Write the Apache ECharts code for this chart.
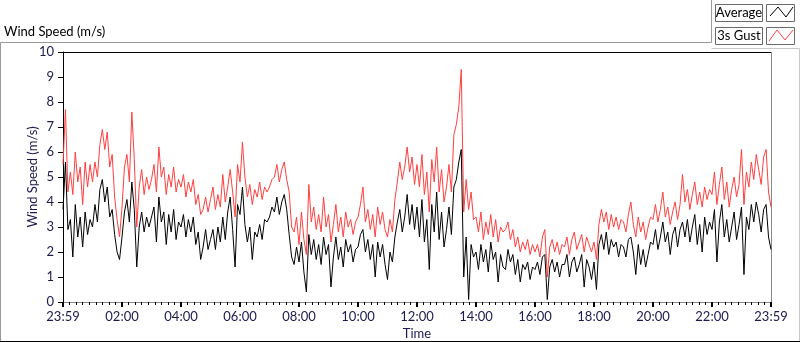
<!DOCTYPE html>
<html>
<head>
<meta charset="utf-8">
<script src="https://cdn.jsdelivr.net/npm/echarts@6/dist/echarts.min.js"></script>
<style>
  html, body { margin: 0; padding: 0; background: #fff; }
  #chart { width: 800px; height: 342px; }
</style>
</head>
<body>
<div id="chart"></div>
<script>
// one sample every 5 minutes, 00:00 .. 24:00
const stepMin = 5

const gust = [
  5.5, 7.7, 4.4, 5.2, 4.3, 6.0, 4.8, 5.4, 3.9, 5.6, 4.6, 5.5, // 00h
  4.8, 5.6, 5.0, 6.3, 6.9, 6.1, 6.8, 5.4, 5.9, 4.2, 3.3, 2.6, // 01h
  3.8, 5.4, 5.9, 4.8, 7.6, 5.7, 3.0, 4.6, 5.3, 4.3, 5.0, 4.5, // 02h
  4.9, 5.5, 4.4, 6.2, 5.0, 5.4, 4.3, 5.1, 4.6, 5.4, 4.4, 4.9, // 03h
  4.6, 5.1, 4.2, 4.8, 4.4, 4.9, 3.9, 4.3, 3.5, 3.7, 4.2, 3.6, // 04h
  4.1, 4.6, 3.7, 4.3, 3.8, 5.1, 4.0, 4.6, 5.3, 4.4, 3.4, 5.5, // 05h
  4.8, 6.4, 5.0, 4.2, 4.7, 3.9, 4.5, 4.2, 4.8, 4.1, 4.6, 4.4, // 06h
  4.6, 4.9, 5.0, 5.5, 4.8, 5.3, 5.6, 4.9, 4.4, 3.0, 2.8, 3.4, // 07h
  2.3, 3.6, 2.5, 1.9, 4.7, 3.2, 3.8, 2.9, 3.5, 2.8, 4.2, 3.0, // 08h
  3.5, 2.4, 3.1, 3.9, 2.8, 3.4, 2.6, 3.6, 3.0, 3.3, 2.7, 3.2, // 09h
  3.4, 3.9, 4.6, 3.2, 3.7, 2.9, 3.5, 2.6, 3.8, 3.1, 3.6, 2.9, // 10h
  2.6, 3.3, 2.8, 4.1, 4.8, 5.6, 4.9, 5.4, 6.2, 5.2, 5.8, 4.7, // 11h
  5.5, 4.6, 5.9, 4.3, 5.2, 3.6, 5.7, 4.8, 6.2, 4.4, 5.3, 4.0, // 12h
  4.6, 5.5, 4.4, 6.7, 7.1, 7.8, 9.3, 3.6, 4.9, 3.7, 4.4, 3.3, // 13h
  3.4, 2.8, 3.6, 2.5, 3.2, 2.7, 3.5, 2.6, 3.3, 2.4, 3.0, 2.8, // 14h
  2.9, 3.2, 2.5, 2.9, 2.2, 2.6, 2.0, 2.4, 2.1, 2.5, 1.9, 2.3, // 15h
  2.0, 2.3, 1.8, 2.6, 2.9, 1.0, 2.2, 2.5, 2.0, 2.4, 1.9, 2.3, // 16h
  2.2, 2.6, 1.9, 2.5, 2.8, 2.1, 2.4, 2.7, 2.0, 2.6, 2.3, 2.0, // 17h
  2.4, 1.7, 3.1, 3.7, 3.2, 3.6, 2.9, 3.5, 3.0, 3.4, 2.9, 3.3, // 18h
  3.2, 2.8, 3.5, 4.0, 3.1, 2.6, 3.4, 2.8, 3.2, 2.5, 3.0, 3.4, // 19h
  3.3, 3.9, 3.2, 3.7, 4.4, 3.4, 3.8, 3.1, 3.6, 4.0, 3.3, 3.9, // 20h
  5.1, 4.0, 4.5, 3.7, 4.3, 4.8, 3.9, 4.4, 3.8, 4.6, 4.1, 4.5, // 21h
  4.3, 5.2, 3.9, 4.7, 5.4, 4.1, 4.8, 3.8, 4.5, 5.0, 4.2, 4.7, // 22h
  6.1, 3.9, 5.2, 4.6, 5.6, 4.9, 5.9, 5.3, 4.7, 5.8, 6.1, 4.4, // 23h
  3.8
]

const average = [
  3.7, 5.6, 2.9, 3.3, 1.8, 3.9, 2.6, 3.4, 2.2, 3.6, 2.7, 3.3, // 00h
  3.0, 3.9, 3.2, 4.5, 4.9, 4.0, 4.6, 3.4, 3.7, 2.7, 2.0, 1.7, // 01h
  2.6, 3.6, 4.1, 3.2, 4.8, 3.7, 1.4, 3.0, 3.6, 2.8, 3.4, 3.0, // 02h
  3.4, 3.8, 2.4, 4.2, 3.2, 3.6, 2.3, 3.5, 2.8, 3.7, 2.5, 3.2, // 03h
  3.0, 3.5, 2.6, 3.3, 2.8, 3.4, 2.3, 2.8, 1.7, 2.2, 2.9, 2.1, // 04h
  2.5, 2.9, 2.1, 3.0, 2.4, 3.4, 2.5, 3.6, 4.2, 2.9, 1.4, 3.9, // 05h
  3.5, 4.6, 3.1, 2.4, 3.0, 1.7, 2.8, 2.6, 3.1, 2.5, 3.3, 3.2, // 06h
  3.4, 3.8, 3.6, 4.2, 3.5, 4.0, 4.3, 3.7, 2.7, 1.8, 1.5, 2.2, // 07h
  1.6, 2.4, 1.2, 0.4, 2.7, 1.9, 2.5, 1.7, 2.3, 1.5, 2.6, 1.9, // 08h
  2.3, 0.6, 1.8, 2.6, 1.7, 2.2, 1.4, 2.5, 2.0, 2.3, 1.6, 2.1, // 09h
  2.2, 2.7, 2.9, 2.0, 2.5, 1.7, 2.3, 1.0, 2.4, 1.8, 2.3, 1.5, // 10h
  0.9, 2.0, 1.6, 2.6, 3.2, 3.7, 2.8, 3.4, 4.3, 3.1, 3.9, 2.9, // 11h
  3.8, 2.6, 4.1, 2.4, 3.3, 1.3, 3.9, 2.8, 4.4, 2.5, 3.6, 2.2, // 12h
  2.9, 3.8, 2.7, 4.6, 4.9, 5.6, 6.1, 1.0, 2.6, 0.1, 2.3, 1.8, // 13h
  2.0, 1.3, 2.3, 1.6, 2.1, 1.2, 2.4, 1.7, 2.0, 0.8, 1.9, 1.4, // 14h
  1.3, 2.1, 1.6, 1.9, 1.1, 1.7, 0.8, 1.5, 1.3, 1.6, 0.9, 1.4, // 15h
  1.3, 1.6, 1.1, 1.8, 1.9, 0.1, 1.4, 1.7, 1.2, 1.6, 1.0, 1.5, // 16h
  1.5, 1.9, 1.0, 1.6, 1.8, 1.2, 1.5, 1.9, 0.6, 1.7, 1.4, 0.9, // 17h
  1.6, 0.5, 2.3, 2.7, 2.1, 2.8, 1.9, 2.5, 2.2, 2.4, 1.8, 2.3, // 18h
  2.2, 1.8, 2.5, 2.6, 2.0, 1.1, 2.3, 1.5, 2.1, 1.4, 1.9, 2.4, // 19h
  2.3, 2.9, 2.1, 2.6, 3.2, 2.4, 2.8, 1.9, 2.7, 3.0, 2.2, 2.9, // 20h
  3.2, 2.6, 3.3, 2.4, 3.0, 3.5, 2.3, 3.1, 2.0, 3.4, 2.7, 3.2, // 21h
  2.9, 3.7, 1.6, 3.2, 3.9, 2.6, 3.3, 2.4, 3.0, 3.6, 2.5, 3.1, // 22h
  3.8, 1.1, 3.4, 2.9, 3.9, 3.2, 4.0, 3.5, 2.8, 3.7, 3.9, 2.6, // 23h
  2.1
]

const timeLabels = ['23:59', '02:00', '04:00', '06:00', '08:00', '10:00', '12:00',
  '14:00', '16:00', '18:00', '20:00', '22:00', '23:59']

const textColor = '#1a1a50'
const fontFamily = 'Lato, "Noto Sans", sans-serif'

const chart = echarts.init(document.getElementById('chart'))

const toPoints = arr => arr.map((v, i) => [i * stepMin, v])

const option = {
  animation: false,
  backgroundColor: '#fff',
  textStyle: { fontFamily: fontFamily },
  grid: { left: 63, right: 29, top: 52, bottom: 40, outerBoundsMode: 'none', containLabel: false },
  xAxis: {
    type: 'value',
    min: 0,
    max: 1440,
    interval: 120,
    name: 'Time',
    nameLocation: 'middle',
    nameGap: 25,
    nameMoveOverlap: false,
    nameTextStyle: { color: textColor, fontSize: 13 },
    axisLine: { lineStyle: { color: '#8a8a8a' } },
    axisTick: { length: 5, lineStyle: { color: '#000', width: 2 } },
    minorTick: { show: true, splitNumber: 9, length: 3, lineStyle: { color: '#000' } },
    splitLine: { show: false },
    axisLabel: {
      color: textColor,
      fontSize: 13,
      margin: 8,
      formatter: v => timeLabels[Math.round(v / 120)]
    }
  },
  yAxis: {
    type: 'value',
    min: 0,
    max: 10,
    interval: 1,
    name: 'Wind Speed (m/s)',
    nameLocation: 'middle',
    nameGap: 24,
    nameMoveOverlap: false,
    nameTextStyle: { color: textColor, fontSize: 13 },
    axisLine: { show: true, lineStyle: { color: '#000' } },
    axisTick: { show: true, length: 5, lineStyle: { color: '#000' } },
    splitLine: { show: false },
    axisLabel: { color: textColor, fontSize: 13, margin: 9 }
  },
  series: [
    {
      name: '3s Gust',
      type: 'line',
      data: toPoints(gust),
      showSymbol: false,
      lineStyle: { color: '#ff4040', width: 1 },
      itemStyle: { color: '#ff4040' }
    },
    {
      name: 'Average',
      type: 'line',
      data: toPoints(average),
      showSymbol: false,
      lineStyle: { color: '#000', width: 1 },
      itemStyle: { color: '#000' }
    }
  ],
  graphic: [
    // outer panel frame
    { type: 'polyline', shape: { points: [[0.5, 341], [0.5, 42.5], [711.5, 42.5], [711.5, 0]] },
      style: { stroke: '#9a9a9a', fill: null, lineWidth: 1 } },
    { type: 'polyline', shape: { points: [[711.5, 48.5], [799.5, 48.5], [799.5, 341]] },
      style: { stroke: '#c8c8c8', fill: null, lineWidth: 1 } },
    { type: 'line', shape: { x1: 0, y1: 341.5, x2: 800, y2: 341.5 }, style: { stroke: '#000', lineWidth: 1 } },
    // plot area border (top dark, right light)
    { type: 'line', shape: { x1: 63, y1: 52.5, x2: 771, y2: 52.5 }, style: { stroke: '#000', lineWidth: 1 } },
    { type: 'line', shape: { x1: 771.5, y1: 52, x2: 771.5, y2: 302 }, style: { stroke: '#8a8a8a', lineWidth: 1 } },
    // title
    { type: 'text', left: 4, top: 25, style: { text: 'Wind Speed (m/s)', fill: '#000', font: '13px ' + fontFamily } },
    // legend
    { type: 'rect', shape: { x: 715.5, y: 4.5, width: 47, height: 17 }, style: { fill: '#fff', stroke: '#6a6a6a', lineWidth: 1 } },
    { type: 'text', x: 739, y: 13, style: { text: 'Average', fill: '#000', font: '13px ' + fontFamily, align: 'center', verticalAlign: 'middle' } },
    { type: 'rect', shape: { x: 766.5, y: 4.5, width: 28, height: 17 }, style: { fill: '#fff', stroke: '#6a6a6a', lineWidth: 1 } },
    { type: 'polyline', shape: { points: [[770, 16], [778, 7], [786, 17], [793, 7]] }, style: { stroke: '#000', fill: null, lineWidth: 1 } },
    { type: 'rect', shape: { x: 715.5, y: 27.5, width: 47, height: 17 }, style: { fill: '#fff', stroke: '#6a6a6a', lineWidth: 1 } },
    { type: 'text', x: 739, y: 36, style: { text: '3s Gust', fill: '#000', font: '13px ' + fontFamily, align: 'center', verticalAlign: 'middle' } },
    { type: 'rect', shape: { x: 766.5, y: 27.5, width: 28, height: 17 }, style: { fill: '#fff', stroke: '#6a6a6a', lineWidth: 1 } },
    { type: 'polyline', shape: { points: [[769, 41], [777, 30], [785, 40], [793, 30]] }, style: { stroke: '#ff4040', fill: null, lineWidth: 1 } }
  ]
}

chart.setOption(option)
</script>
</body>
</html>
